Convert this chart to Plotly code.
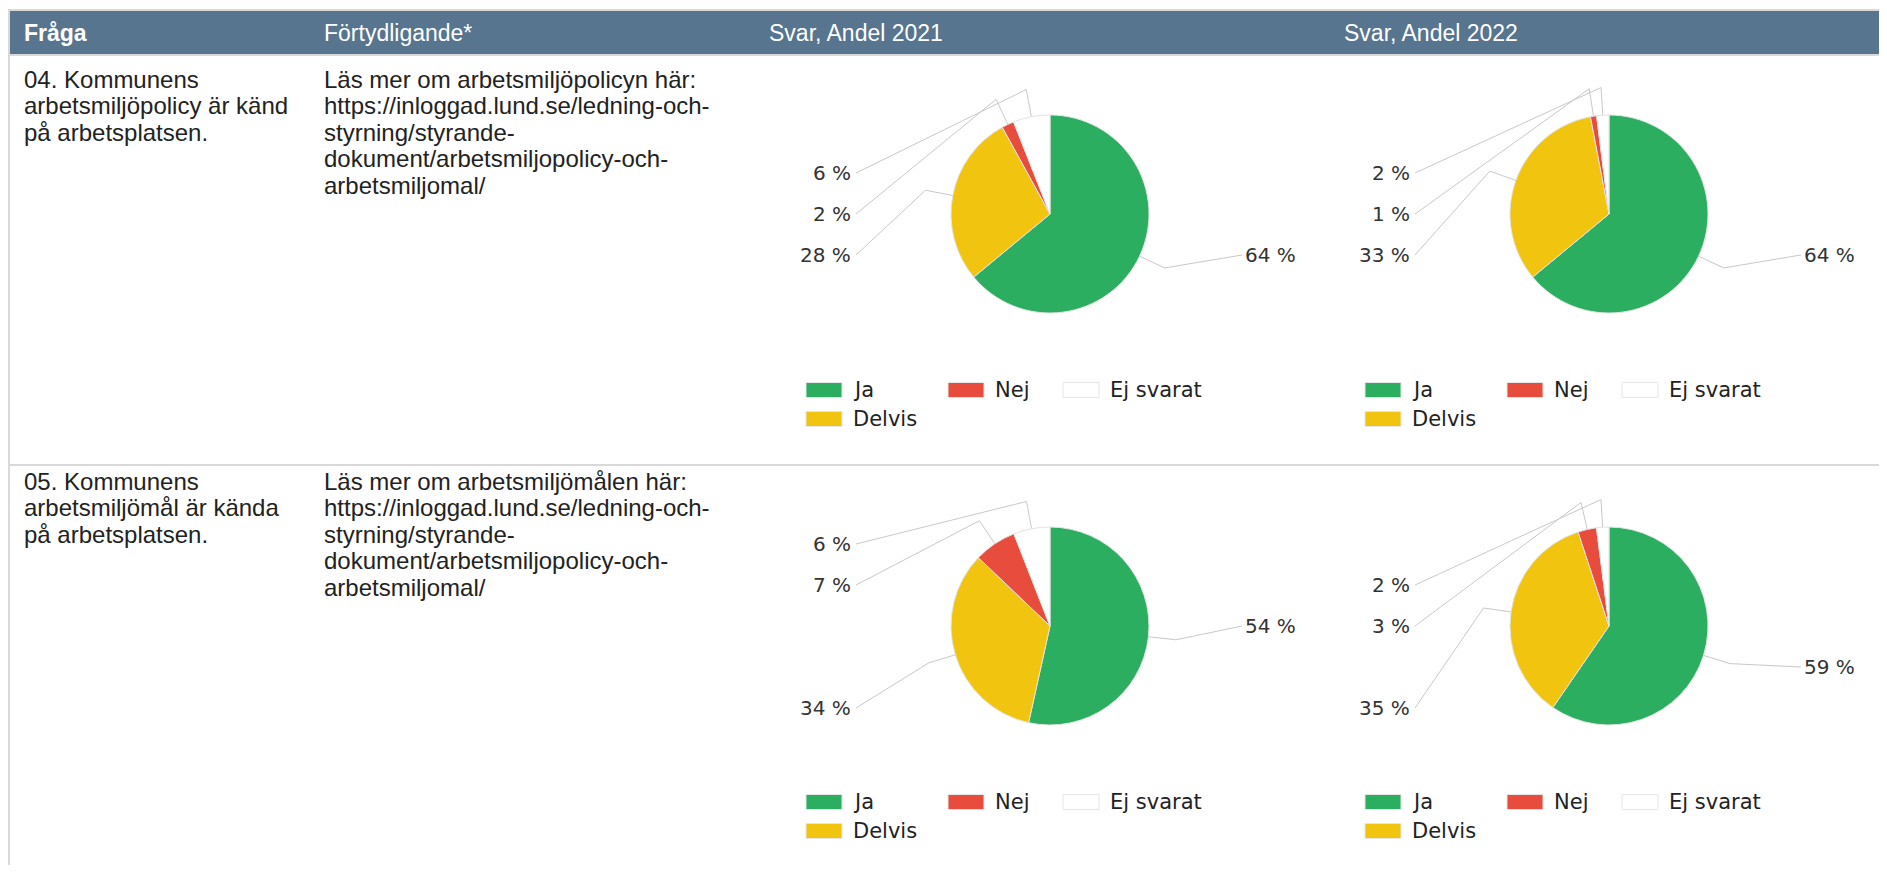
import math
import plotly.graph_objects as go

# ── Data ─────────────────────────────────────────────────────────────────────

HEADERS = ["Fråga", "Förtydligande*", "Svar, Andel 2021", "Svar, Andel 2022"]

LABELS = ["Ja", "Delvis", "Nej", "Ej svarat"]
COLORS = ["#2bae60", "#f1c40f", "#e74c3c", "#ffffff"]

Q04_TEXT = ["04. Kommunens", "arbetsmiljöpolicy är känd", "på arbetsplatsen."]
Q04_NOTE = [
    "Läs mer om arbetsmiljöpolicyn här:",
    "https://inloggad.lund.se/ledning-och-",
    "styrning/styrande-",
    "dokument/arbetsmiljopolicy-och-",
    "arbetsmiljomal/",
]
Q04_2021 = [64, 28, 2, 6]
Q04_2022 = [64, 33, 1, 2]

Q05_TEXT = ["05. Kommunens", "arbetsmiljömål är kända", "på arbetsplatsen."]
Q05_NOTE = [
    "Läs mer om arbetsmiljömålen här:",
    "https://inloggad.lund.se/ledning-och-",
    "styrning/styrande-",
    "dokument/arbetsmiljopolicy-och-",
    "arbetsmiljomal/",
]
Q05_2021 = [54, 34, 7, 6]
Q05_2022 = [59, 35, 3, 2]

# legend reads row by row: Ja, Nej, Ej svarat / Delvis
LEGEND_ORDER = ["Ja", "Nej", "Ej svarat", "Delvis"]

# ── Layout (page pixels) ─────────────────────────────────────────────────────

W, H = 1887, 873
OFF = 8  # default body margin of the html page
FW, FH = W - OFF, H - 2 * OFF

HEAD_BG = "#57758f"
BORDER = "#d9d9d9"
LEADER = "#c8c8c8"
TXT = "#222222"
TABLE_FONT = "Liberation Sans, Arial, sans-serif"
CHART_FONT = "DejaVu Sans, Verdana, sans-serif"

COL_X = [22, 322, 767, 1342]
HEAD_Y = 33
ROW_TEXT_Y = [79, 481]
LINE_H = 26.5
ROW_SEP = 465

PIE_CX = [1050, 1609]
PIE_CY = [214, 626]
R = 99
SLOT = 41
GAP_R, GAP_L = 193, 197
# vertical label slot of each slice (Ja, Delvis, Nej, Ej svarat), per chart
LABEL_SLOTS = {
    (0, 0): [1, 1, 0, -1],
    (0, 1): [1, 1, 0, -1],
    (1, 0): [0, 2, -1, -2],
    (1, 1): [1, 2, 0, -1],
}
LEG_COL_X = [-244, -102, 13]
LEG_ROW_Y = [176, 205]
SW_W, SW_H = 36, 15

rows = [
    (Q04_TEXT, Q04_NOTE, [Q04_2021, Q04_2022]),
    (Q05_TEXT, Q05_NOTE, [Q05_2021, Q05_2022]),
]

fig = go.Figure()
shapes = []
annotations = []


def text(x, y, s, size, color=TXT, family=TABLE_FONT, anchor="left"):
    annotations.append(
        dict(
            x=x, y=y, xref="x", yref="y", text=s, showarrow=False,
            xanchor=anchor, yanchor="middle",
            font=dict(family=family, size=size, color=color),
        )
    )


# table frame
RIGHT = OFF + FW
shapes.append(dict(type="rect", x0=9, x1=RIGHT, y0=11, y1=54, fillcolor=HEAD_BG,
                   line_width=0, layer="below"))
for y in (10, 55, ROW_SEP):
    shapes.append(dict(type="line", x0=8, x1=RIGHT, y0=y, y1=y,
                       line=dict(color=BORDER, width=2), layer="below"))
shapes.append(dict(type="line", x0=9, x1=9, y0=10, y1=OFF + FH,
                   line=dict(color=BORDER, width=2), layer="below"))

for i, h in enumerate(HEADERS):
    text(COL_X[i], HEAD_Y, f"<b>{h}</b>" if i == 0 else h, 23, color="white")

for r, (q_lines, note_lines, years) in enumerate(rows):
    for k, line in enumerate(q_lines):
        text(COL_X[0], ROW_TEXT_Y[r] + k * LINE_H, line, 24)
    for k, line in enumerate(note_lines):
        text(COL_X[1], ROW_TEXT_Y[r] + k * LINE_H, line, 24)

    cy = PIE_CY[r]
    for c, vals in enumerate(years):
        cx = PIE_CX[c]
        fig.add_trace(
            go.Pie(
                labels=LABELS,
                values=vals,
                marker=dict(colors=COLORS, line=dict(color="#e3e3e3", width=1)),
                sort=False,
                direction="clockwise",
                rotation=0,
                textinfo="none",
                hovertemplate="%{label}: %{value} %<extra></extra>",
                showlegend=False,
                domain=dict(
                    x=[(cx - R - OFF) / FW, (cx + R - OFF) / FW],
                    y=[1 - (cy + R - OFF) / FH, 1 - (cy - R - OFF) / FH],
                ),
            )
        )

        # leader lines and value labels
        total = sum(vals)
        cum = 0
        lx, ly = [], []
        for v, slot in zip(vals, LABEL_SLOTS[(r, c)]):
            ang = 2 * math.pi * (cum + v / 2) / total
            cum += v
            s, co = math.sin(ang), math.cos(ang)
            right = s > 0
            y_lab = cy + slot * SLOT
            x_lab = cx + GAP_R if right else cx - GAP_L
            x_end = x_lab - 1 if right else x_lab + 3
            lx += [cx + R * s, cx + 1.28 * R * s, x_end, None]
            ly += [cy - R * co, cy - 1.28 * R * co, y_lab, None]
            text(x_lab, y_lab, f"{v} %", 20, color="#333333",
                 family=CHART_FONT, anchor="left" if right else "right")
        fig.add_trace(
            go.Scatter(x=lx, y=ly, mode="lines", line=dict(color=LEADER, width=1),
                       hoverinfo="skip", showlegend=False)
        )

        # legend grid
        for i, lab in enumerate(LEGEND_ORDER):
            x0 = cx + LEG_COL_X[i % 3]
            yc = cy + LEG_ROW_Y[i // 3]
            col = COLORS[LABELS.index(lab)]
            shapes.append(dict(type="rect", x0=x0, x1=x0 + SW_W,
                               y0=yc - SW_H / 2, y1=yc + SW_H / 2,
                               fillcolor=col, line=dict(color="#e6e6e6", width=1)))
            text(x0 + SW_W + 9, yc, lab, 21, family=CHART_FONT)

fig.update_layout(
    width=FW,
    height=FH,
    margin=dict(l=0, r=0, t=0, b=0),
    paper_bgcolor="white",
    plot_bgcolor="white",
    shapes=shapes,
    annotations=annotations,
    xaxis=dict(range=[OFF, OFF + FW], visible=False, fixedrange=True),
    yaxis=dict(range=[OFF + FH, OFF], visible=False, fixedrange=True),
)

fig.write_html("out.html")
